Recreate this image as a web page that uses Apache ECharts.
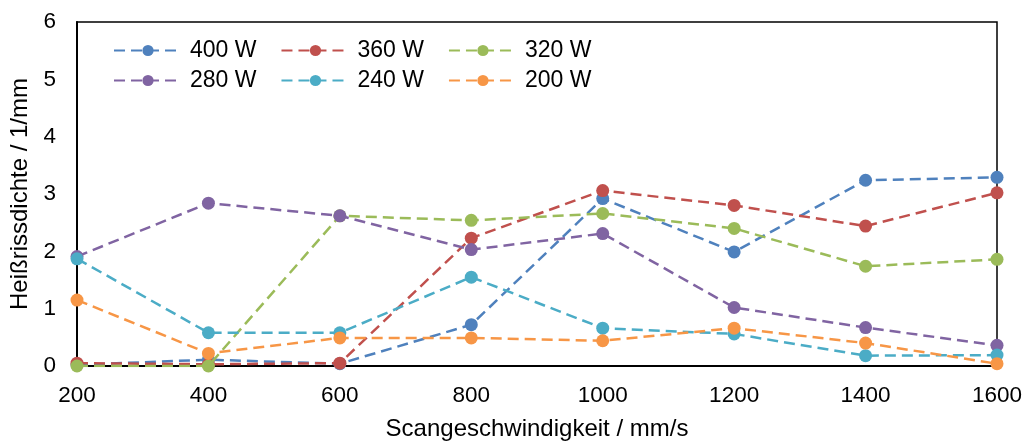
<!DOCTYPE html>
<html><head><meta charset="utf-8">
<script src="https://cdn.jsdelivr.net/npm/echarts@6/dist/echarts.min.js"></script>
<style>html,body{margin:0;padding:0;background:#fff}#c{width:1026px;height:446px}</style>
</head><body><div id="c"></div>
<script>
const speeds = [200, 400, 600, 800, 1000, 1200, 1400, 1600];
const s400 = [0.02, 0.11, 0.04, 0.72, 2.92, 1.99, 3.24, 3.29];
const s360 = [0.05, 0.03, 0.05, 2.23, 3.06, 2.80, 2.44, 3.02];
const s320 = [0.00, 0.00, 2.62, 2.54, 2.66, 2.40, 1.74, 1.86];
const s280 = [1.91, 2.84, 2.62, 2.03, 2.31, 1.02, 0.67, 0.36];
const s240 = [1.87, 0.58, 0.58, 1.55, 0.66, 0.56, 0.18, 0.19];
const s200 = [1.15, 0.22, 0.49, 0.49, 0.44, 0.66, 0.40, 0.04];
const names = ['400 W', '360 W', '320 W', '280 W', '240 W', '200 W'];
const colors = ['#4F81BD', '#C0504D', '#9BBB59', '#8064A2', '#4BACC6', '#F79646'];
const yTicks = [0, 1, 2, 3, 4, 5, 6];
const xTicks = speeds;

const all = [s400, s360, s320, s280, s240, s200];
const font = 'Liberation Sans, Arial, sans-serif';
const chart = echarts.init(document.getElementById('c'));
const legendBase = {left: 108, itemWidth: 68, itemHeight: 14, itemGap: 24,
  textStyle: {fontFamily: font, fontSize: 23, color: '#000', padding: [0, 0, 0, 3]}};
chart.setOption({
  animation: false,
  color: colors,
  grid: {left: 77, right: 29, top: 22, bottom: 75, show: true, borderColor: '#000', borderWidth: 1.5, containLabel: false},
  legend: [
    Object.assign({data: names.slice(0, 3), top: 34}, legendBase),
    Object.assign({data: names.slice(3), top: 64}, legendBase)
  ],
  xAxis: {
    type: 'value', min: xTicks[0], max: xTicks[xTicks.length - 1], interval: 200,
    name: 'Scangeschwindigkeit / mm/s', nameLocation: 'middle', nameGap: 51,
    nameTextStyle: {fontFamily: font, fontSize: 24, color: '#000'},
    axisLine: {lineStyle: {color: '#000', width: 2}},
    axisTick: {show: false}, splitLine: {show: false},
    axisLabel: {fontFamily: font, fontSize: 22.5, color: '#000', margin: 18, formatter: v => String(v)}
  },
  yAxis: {
    type: 'value', min: yTicks[0], max: yTicks[yTicks.length - 1], interval: 1,
    name: 'Heißrissdichte / 1/mm', nameLocation: 'middle', nameGap: 40,
    nameTextStyle: {fontFamily: font, fontSize: 24, color: '#000'},
    axisLine: {show: true, lineStyle: {color: '#000', width: 2}},
    axisTick: {show: false}, splitLine: {show: false},
    axisLabel: {fontFamily: font, fontSize: 22.5, color: '#000', margin: 21, formatter: v => String(v)}
  },
  series: all.map((arr, i) => ({
    name: names[i], type: 'line',
    data: speeds.map((x, j) => [x, arr[j]]),
    symbol: 'circle', symbolSize: 13,
    lineStyle: {width: 2.5, type: [11, 6], color: colors[i]},
    itemStyle: {color: colors[i]},
    z: 2 + i
  }))
});
</script></body></html>
